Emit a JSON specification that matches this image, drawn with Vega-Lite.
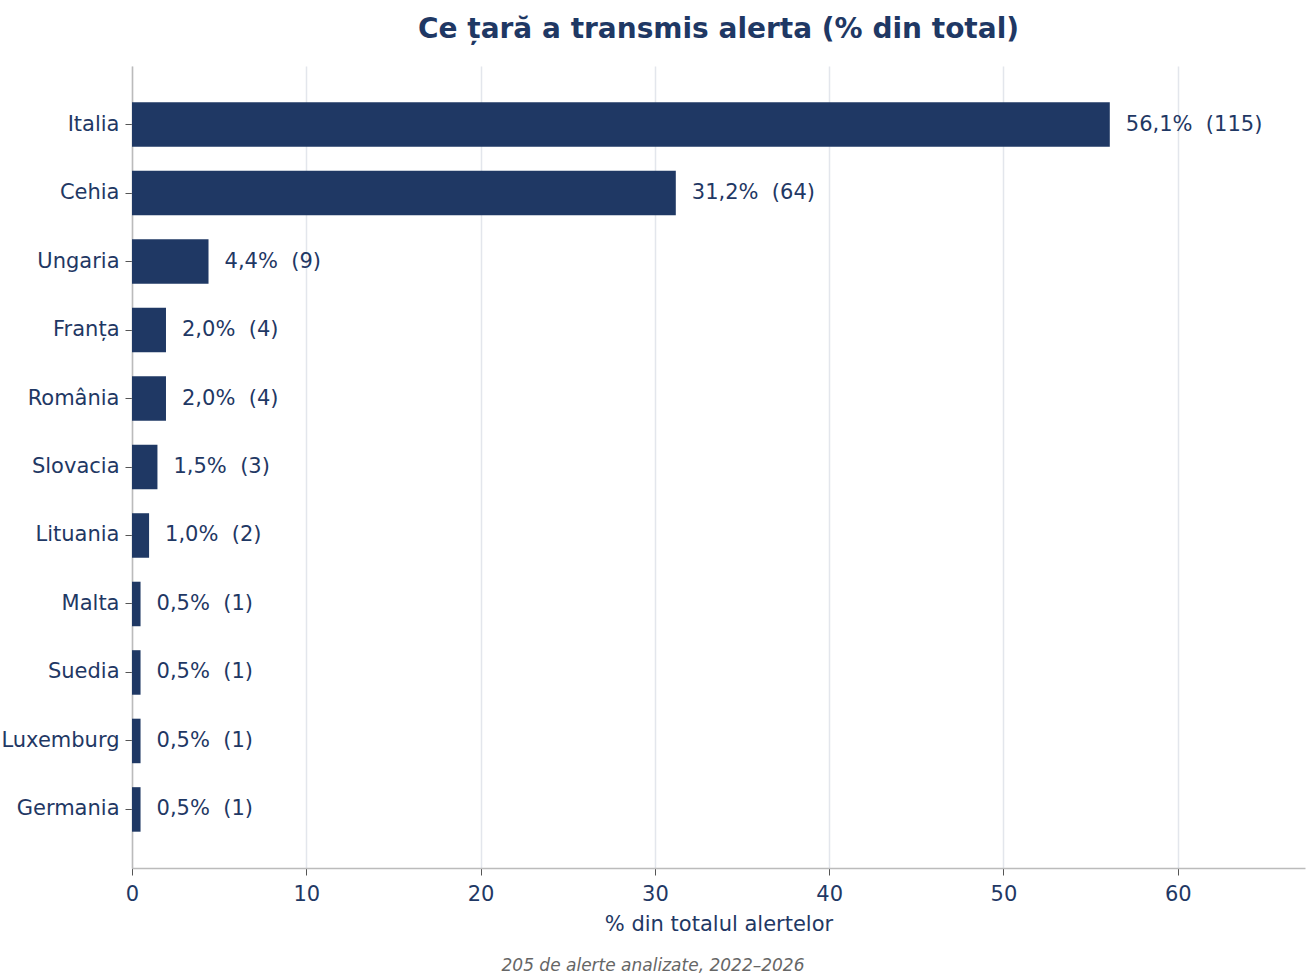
{
  "$schema": "https://vega.github.io/schema/vega-lite/v6.json",
  "background": "white",
  "padding": {"left": 0, "top": 16, "right": 8, "bottom": 4},
  "config": {
    "font": "DejaVu Sans",
    "view": {"stroke": null}
  },
  "title": {
    "text": "205 de alerte analizate, 2022–2026",
    "orient": "bottom",
    "anchor": "middle",
    "font": "DejaVu Sans",
    "fontSize": 17,
    "fontStyle": "italic",
    "fontWeight": "normal",
    "color": "#666666",
    "offset": 24
  },
  "vconcat": [
    {
      "width": 1173,
      "height": 802,
      "title": {
        "text": "Ce țară a transmis alerta (% din total)",
        "anchor": "middle",
        "fontSize": 28,
        "fontWeight": "bold",
        "color": "#1f3864",
        "offset": 22
      },
      "data": {
        "values": [
          {"tara": "Italia", "procent": 56.1, "label": "56,1%\u00a0 (115)"},
          {"tara": "Cehia", "procent": 31.2, "label": "31,2%\u00a0 (64)"},
          {"tara": "Ungaria", "procent": 4.39, "label": "4,4%\u00a0 (9)"},
          {"tara": "Franța", "procent": 1.95, "label": "2,0%\u00a0 (4)"},
          {"tara": "România", "procent": 1.95, "label": "2,0%\u00a0 (4)"},
          {"tara": "Slovacia", "procent": 1.46, "label": "1,5%\u00a0 (3)"},
          {"tara": "Lituania", "procent": 0.98, "label": "1,0%\u00a0 (2)"},
          {"tara": "Malta", "procent": 0.49, "label": "0,5%\u00a0 (1)"},
          {"tara": "Suedia", "procent": 0.49, "label": "0,5%\u00a0 (1)"},
          {"tara": "Luxemburg", "procent": 0.49, "label": "0,5%\u00a0 (1)"},
          {"tara": "Germania", "procent": 0.49, "label": "0,5%\u00a0 (1)"}
        ]
      },
      "encoding": {
        "y": {
          "field": "tara",
          "type": "nominal",
          "sort": ["Italia", "Cehia", "Ungaria", "Franța", "România", "Slovacia", "Lituania", "Malta", "Suedia", "Luxemburg", "Germania"],
          "title": null,
          "scale": {"paddingInner": 0.35, "paddingOuter": 0.53},
          "axis": {
            "labelFontSize": 21,
            "labelColor": "#1f3864",
            "labelPadding": 6,
            "tickColor": "#555555",
            "tickSize": 7,
            "domainColor": "#bbbbbb",
            "domainWidth": 1.5,
            "grid": false
          }
        },
        "x": {
          "field": "procent",
          "type": "quantitative",
          "title": "% din totalul alertelor",
          "scale": {"domain": [0, 67.3], "nice": false},
          "axis": {
            "values": [0, 10, 20, 30, 40, 50, 60],
            "labelFlush": false,
            "labelFontSize": 21,
            "labelColor": "#1f3864",
            "labelPadding": 8,
            "titleFontSize": 21,
            "titleFontWeight": "normal",
            "titleColor": "#1f3864",
            "titlePadding": 9,
            "tickColor": "#555555",
            "tickSize": 7,
            "domainColor": "#bbbbbb",
            "domainWidth": 1.5,
            "grid": true,
            "gridColor": "#e3e6ec",
            "gridWidth": 1.5
          }
        }
      },
      "layer": [
        {"mark": {"type": "bar", "color": "#1f3864"}},
        {
          "mark": {
            "type": "text",
            "align": "left",
            "baseline": "middle",
            "dx": 16,
            "fontSize": 21,
            "color": "#1f3864"
          },
          "encoding": {"text": {"field": "label"}}
        }
      ]
    }
  ]
}
